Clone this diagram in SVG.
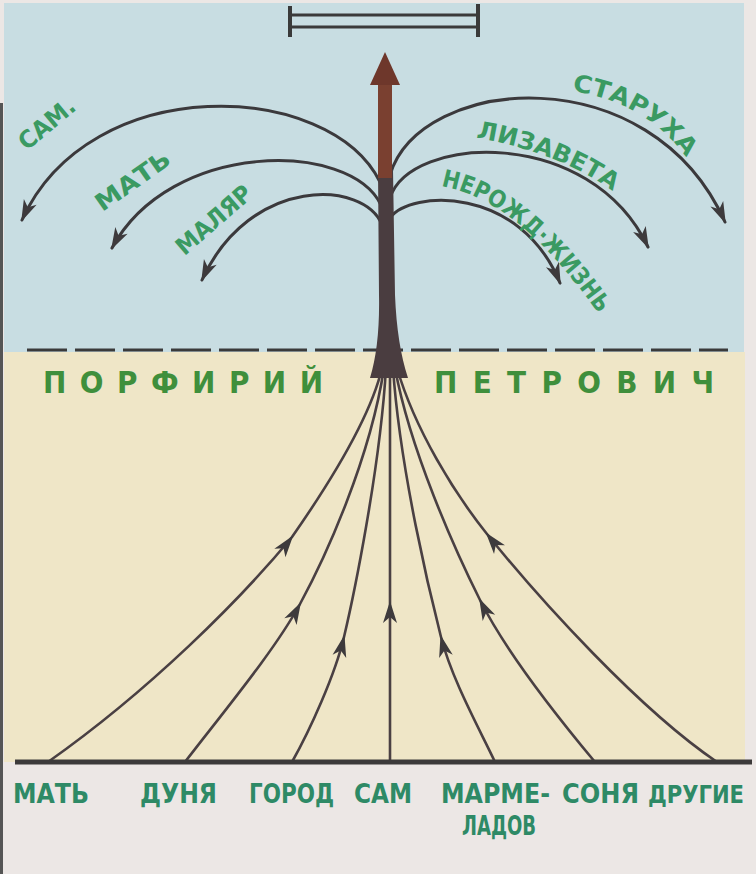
<svg xmlns="http://www.w3.org/2000/svg" width="756" height="874" viewBox="0 0 756 874">
<style>
.br{fill:none;stroke:#3b393c;stroke-width:3;stroke-linecap:round}
.fan{fill:none;stroke:#4a4043;stroke-width:2.6}
.lbl{font-family:"DejaVu Sans Condensed","Liberation Sans Narrow","Liberation Sans",sans-serif;font-weight:bold;fill:#3a9a62}
.top{font-size:24px}
.name{font-size:31px;fill:#3f8f3c}
.bot{font-size:27px;fill:#2e8a66}
.bots{font-size:25px}
</style>
<defs>
<marker id="ah" viewBox="-22 -8 25 16" markerWidth="25" markerHeight="16" refX="0" refY="0" orient="auto" markerUnits="userSpaceOnUse">
<path d="M2,0 L-20,-7 L-14,0 L-20,7 Z" fill="#3d3a3c"/>
</marker>
<path id="tp1" d="M572,91 C612,97 657,115 688,160"/>
<path id="tp2" d="M476,138 C520,145 575,162 618,195"/>
<path id="tp3" d="M441,186 C490,195 540,230 603,320"/>
</defs>
<rect width="756" height="874" fill="#ece7e5"/>
<rect x="4" y="3" width="740" height="349" fill="#c8dde2"/>
<rect x="4" y="352" width="741" height="410" fill="#efe6c7"/>
<rect x="0" y="103" width="3" height="771" fill="#555"/>

<g id="bar">
<line x1="290" y1="15" x2="478" y2="15" stroke="#3a3a3a" stroke-width="3"/>
<line x1="290" y1="27" x2="478" y2="27" stroke="#3a3a3a" stroke-width="3"/>
<line x1="290" y1="6" x2="290" y2="37" stroke="#3a3a3a" stroke-width="4"/>
<line x1="478" y1="4" x2="478" y2="37" stroke="#3a3a3a" stroke-width="4"/>
</g>

<g id="divider">
<line x1="27" y1="350" x2="728" y2="350" stroke="#3a3a3a" stroke-width="3" stroke-dasharray="40 8"/>
</g>

<g id="connectors">
<path class="br" d="M380,182 C330,80 90,70 22,220" marker-end="url(#ah)"/>
<path class="br" d="M381,205 C350,140 170,140 112,248" marker-end="url(#ah)"/>
<path class="br" d="M382,225 C365,180 250,175 202,280" marker-end="url(#ah)"/>
<path class="br" d="M390,175 C420,75 650,55 725,222" marker-end="url(#ah)"/>
<path class="br" d="M390,198 C410,135 590,125 648,247" marker-end="url(#ah)"/>
<path class="br" d="M390,218 C410,190 520,185 560,283" marker-end="url(#ah)"/>

<path class="fan" d="M48,762 C150,690 240,600 292,537 C322,494 370,420 382,368" marker-mid="url(#ah)"/>
<path class="fan" d="M185,762 C225,710 275,650 300,604 C325,558 370,460 384,368" marker-mid="url(#ah)"/>
<path class="fan" d="M292,762 C310,730 335,675 344,637 C353,599 380,470 386,368" marker-mid="url(#ah)"/>
<path class="fan" d="M390,762 L390,603 L390,368" marker-mid="url(#ah)"/>
<path class="fan" d="M495,762 C480,730 452,680 441,637 C430,594 400,470 393,368" marker-mid="url(#ah)"/>
<path class="fan" d="M595,762 C560,720 505,650 480,600 C455,550 410,450 395,368" marker-mid="url(#ah)"/>
<path class="fan" d="M717,762 C640,710 540,600 487,534 C455,494 415,430 397,368" marker-mid="url(#ah)"/>
</g>

<g id="trunk">
<path d="M378,170 L393,170 L395,295 Q397,345 408,378 L370,378 Q380,345 379,295 Z" fill="#4a3d40"/>
</g>

<g id="arrow-up">
<rect x="378" y="80" width="14" height="98" fill="#7a4030"/>
<path d="M385,52 L400,85 L370,85 Z" fill="#6e372b"/>
</g>

<g id="baseline">
<line x1="15" y1="762" x2="752" y2="762" stroke="#3c3a3a" stroke-width="5"/>
</g>

<g id="top-labels">
<text class="lbl top" transform="translate(47,124) rotate(-40)" text-anchor="middle" y="8" textLength="66" lengthAdjust="spacingAndGlyphs">САМ.</text>
<text class="lbl top" transform="translate(133,181) rotate(-35)" text-anchor="middle" y="8" textLength="86" lengthAdjust="spacingAndGlyphs">МАТЬ</text>
<text class="lbl top" transform="translate(214,220) rotate(-41)" text-anchor="middle" y="8" textLength="92" lengthAdjust="spacingAndGlyphs">МАЛЯР</text>
<text class="lbl top" textLength="136" lengthAdjust="spacingAndGlyphs"><textPath href="#tp1">СТАРУХА</textPath></text>
<text class="lbl top" textLength="148" lengthAdjust="spacingAndGlyphs"><textPath href="#tp2">ЛИЗАВЕТА</textPath></text>
<text class="lbl top" textLength="208" lengthAdjust="spacingAndGlyphs"><textPath href="#tp3">НЕРОЖД·ЖИЗНЬ</textPath></text>
</g>

<g id="name">
<text class="lbl name" x="43" y="393" textLength="280" lengthAdjust="spacing">ПОРФИРИЙ</text>
<text class="lbl name" x="434" y="393" textLength="280" lengthAdjust="spacing">ПЕТРОВИЧ</text>
</g>

<g id="bottom-labels">
<text class="lbl bot" x="13" y="803" textLength="76" lengthAdjust="spacingAndGlyphs">МАТЬ</text>
<text class="lbl bot" x="140" y="803" textLength="77" lengthAdjust="spacingAndGlyphs">ДУНЯ</text>
<text class="lbl bot" x="249" y="803" textLength="85" lengthAdjust="spacingAndGlyphs">ГОРОД</text>
<text class="lbl bot" x="354" y="803" textLength="58" lengthAdjust="spacingAndGlyphs">САМ</text>
<text class="lbl bot" x="441" y="803" textLength="109" lengthAdjust="spacingAndGlyphs">МАРМЕ-</text>
<text class="lbl bot" x="462" y="835" textLength="74" lengthAdjust="spacingAndGlyphs">ЛАДОВ</text>
<text class="lbl bot" x="562" y="803" textLength="77" lengthAdjust="spacingAndGlyphs">СОНЯ</text>
<text class="lbl bot bots" x="648" y="803" textLength="96" lengthAdjust="spacingAndGlyphs">ДРУГИЕ</text>
</g>
</svg>
